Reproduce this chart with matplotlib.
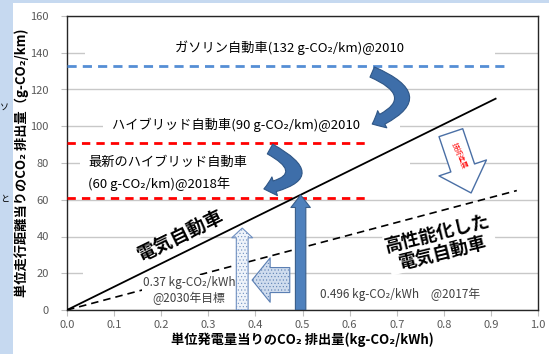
import matplotlib.pyplot as plt
from matplotlib.patches import FancyArrowPatch, Rectangle
import numpy as np

plt.rcParams['font.family'] = ['Noto Sans CJK JP', 'DejaVu Sans']
plt.rcParams['hatch.linewidth'] = 0.4

# ---- data ----
x_ticks = np.arange(0, 1.01, 0.1)
y_ticks = np.arange(0, 161, 20)

gasoline_level = 133          # ガソリン自動車 132 g-CO2/km
gasoline_xmax = 0.94
hybrid_levels = [91, 61]      # hybrid 2010 / latest hybrid 2018
hybrid_xmax = 0.64

ev_x = [0.0, 0.91]            # 電気自動車
ev_y = [0.0, 115]
ev_hp_x = [0.0, 0.955]        # 高性能化した電気自動車
ev_hp_y = [0.0, 65]

grid_2017 = 0.496             # kg-CO2/kWh
grid_2017_top = 62.6
grid_2030 = 0.372
grid_2030_top = 44.6

# white boxes behind the labels (they hide the grid lines)
masks = [(0.038, 136, 0.871, 12),
         (0.076, 95, 0.631, 10),
         (0.028, 66, 0.700, 20),
         (0.034, 17, 0.330, 6)]

fig = plt.figure(figsize=(5.49, 3.54), dpi=100, facecolor='#c6d9f0')
fig.patches.append(Rectangle((13/549, 0), 1, (354-3)/354, transform=fig.transFigure,
                             facecolor='white', edgecolor='none', zorder=-1))
fig.text(0.0, 1-107/354, 'ソ', fontsize=6.5, va='center')
fig.text(0.0, 1-200/354, 'と', fontsize=6.5, va='center')

ax = fig.add_axes([67/549, 1-310/354, 471/549, 294/354])
ax.set_xlim(0, 1)
ax.set_ylim(0, 160)
ax.set_xticks(x_ticks)
ax.set_xticklabels(['%.1f' % v for v in x_ticks])
ax.set_yticks(y_ticks)
ax.grid(axis='y', color='#c8c8c8', lw=1)
ax.set_axisbelow(True)
ax.tick_params(axis='both', colors='#bfbfbf', labelcolor='#595959', labelsize=8, length=4)
ax.tick_params(axis='y', pad=9)
ax.tick_params(axis='x', pad=3)
for s in ax.spines.values():
    s.set_color('#262626')
    s.set_linewidth(1)

for (mx, my, mw, mh) in masks:
    ax.add_patch(Rectangle((mx, my), mw, mh, facecolor='white', edgecolor='none', zorder=1))

ax.set_xlabel('単位発電量当りのCO₂ 排出量(kg-CO₂/kWh)', fontsize=9.5, fontweight='bold', labelpad=2)
ax.set_ylabel('単位走行距離当りのCO₂ 排出量（g-CO₂/km)', fontsize=9.5, fontweight='bold', labelpad=1)

# horizontal reference lines
ax.plot([0, gasoline_xmax], [gasoline_level]*2, color='#558ed5', lw=2, dashes=(3.3, 2.2), zorder=3)
for lv in hybrid_levels:
    ax.plot([0, hybrid_xmax], [lv, lv], color='#ff0000', lw=2, dashes=(3.0, 2.2), zorder=3)

# EV lines
ax.plot(ev_x, ev_y, color='black', lw=1.3, zorder=3)
ax.plot(ev_hp_x, ev_hp_y, color='black', lw=1.2, dashes=(4.5, 3), zorder=3)

# labels
ax.text(0.473, 143, 'ガソリン自動車(132 g-CO₂/km)@2010', ha='center', va='center', fontsize=9.5, zorder=4)
ax.text(0.096, 100.5, 'ハイブリッド自動車(90 g-CO₂/km)@2010', ha='left', va='center', fontsize=9.5, zorder=4)
ax.text(0.045, 80.4, '最新のハイブリッド自動車', ha='left', va='center', fontsize=9.5, zorder=4)
ax.text(0.045, 69, '(60 g-CO₂/km)@2018年', ha='left', va='center', fontsize=9.5, zorder=4)
ax.text(0.242, 40.5, '電気自動車', rotation=26, rotation_mode='anchor', ha='center', va='center',
        fontsize=13.5, fontweight='bold', zorder=2,
        bbox=dict(facecolor='white', edgecolor='none', pad=0.5))
ax.text(0.792, 36.5, '高性能化した\n電気自動車', rotation=14, rotation_mode='anchor', ha='center', va='center',
        multialignment='center', linespacing=1.05, fontsize=13, fontweight='bold', zorder=2,
        bbox=dict(facecolor='white', edgecolor='none', pad=0.5))
ax.text(0.259, 10.6, '0.37 kg-CO₂/kWh\n@2030年目標', ha='center', va='center', fontsize=8.5,
        linespacing=1.3, color='#404040', zorder=4,
        bbox=dict(facecolor='white', edgecolor='none', pad=0.5))
ax.text(0.537, 8.7, '0.496 kg-CO₂/kWh　@2017年', ha='left', va='center', fontsize=8.5, color='#404040', zorder=4)
ax.text(0.832, 84.0, '技術進展', rotation=-67, rotation_mode='anchor', ha='center', va='center',
        fontsize=5, color='#ff0000', zorder=6)

# arrows
def arrow(p0, p1, style, fc, ec, lw=0.8, rad=0.0, hatch=None, z=5):
    a = FancyArrowPatch(p0, p1, arrowstyle=style, connectionstyle='arc3,rad=%s' % rad,
                        facecolor=fc, edgecolor=ec, lw=lw, hatch=hatch,
                        shrinkA=0, shrinkB=0, zorder=z)
    ax.add_patch(a)

arrow((grid_2017, 0), (grid_2017, grid_2017_top), 'simple,head_width=14,head_length=9,tail_width=7.5',
      '#4f81bd', '#385d8a')
arrow((grid_2030, 0), (grid_2030, grid_2030_top), 'simple,head_width=15,head_length=7,tail_width=8.5',
      '#eef3fa', '#6f8fc0', hatch='.....')
arrow((0.473, 16.3), (0.393, 16.3), 'simple,head_width=32,head_length=13,tail_width=18',
      '#cfdcee', '#5b7fb3', hatch='.....')
arrow((0.815, 96.5), (0.858, 63.7), 'simple,head_width=36,head_length=19,tail_width=18',
      'white', '#4a6fa5', lw=1, z=5)
arrow((0.648, 129.5), (0.648, 101.2), 'simple,head_width=14,head_length=8,tail_width=8',
      '#3e6ea9', '#2f5686', rad=-1.15)
arrow((0.431, 87.6), (0.418, 65.9), 'simple,head_width=14,head_length=8,tail_width=8',
      '#3e6ea9', '#2f5686', rad=-1.35)

fig.savefig('out.png', dpi=100, facecolor=fig.get_facecolor())
